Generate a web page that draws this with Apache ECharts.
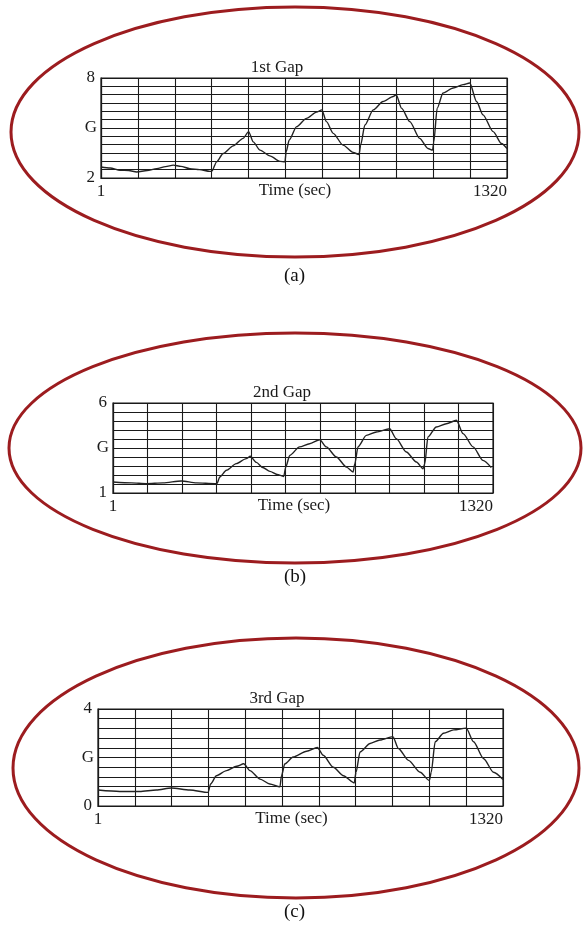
<!DOCTYPE html>
<html lang="en" style="height: 100%">
<head>
<meta charset="utf-8">
<title>Gap G vs Time</title>
</head>
<body style="height: 100%; margin: 0; background: #fff">
<div id="container" style="width: 584px; height: 929px"></div>
<script type="text/javascript" src="https://cdn.jsdelivr.net/npm/echarts@6/dist/echarts.min.js"></script>
<script type="text/javascript">
var dom = document.getElementById('container');
var myChart = echarts.init(dom);

// (time in sec, G)
var timeA = [0, 30, 62, 90, 116, 150, 181, 210, 235, 260, 289, 320, 354, 360,
  376, 397, 430, 462, 480, 495, 517, 549, 582, 598,
  602, 612, 636, 668, 701, 718, 733, 755, 787, 820, 839,
  844, 858, 885, 917, 950, 960, 977, 1004, 1036, 1063, 1078,
  1082, 1093, 1112, 1145, 1177, 1199, 1221, 1242, 1275, 1302, 1320];
var gapA = [2.66, 2.6, 2.46, 2.45, 2.36, 2.45, 2.56, 2.68, 2.77, 2.7, 2.56, 2.5, 2.4, 2.4,
  2.97, 3.47, 3.93, 4.38, 4.78, 4.17, 3.67, 3.33, 3.0, 2.97,
  3.57, 4.28, 5.08, 5.58, 5.95, 6.09, 5.38, 4.68, 3.97, 3.53, 3.41,
  3.97, 5.18, 6.09, 6.59, 6.89, 6.99, 6.19, 5.38, 4.38, 3.77, 3.67,
  4.17, 6.19, 7.1, 7.4, 7.6, 7.7, 6.59, 5.79, 4.78, 4.07, 3.77];

var timeB = [0, 64, 116, 174, 237, 290, 353, 361,
  371, 394, 428, 463, 477, 498, 520, 545, 570, 593,
  600, 614, 648, 683, 718, 741, 776, 811, 834,
  840, 851, 880, 915, 961, 984, 1019, 1054, 1077,
  1083, 1094, 1123, 1158, 1193, 1216, 1251, 1285, 1314];
var gapB = [1.61, 1.56, 1.52, 1.56, 1.67, 1.56, 1.52, 1.52,
  1.89, 2.26, 2.63, 2.91, 3.04, 2.7, 2.42, 2.2, 2.03, 1.92,
  2.44, 3.09, 3.56, 3.74, 3.96, 3.56, 3.0, 2.44, 2.17,
  2.63, 3.56, 4.2, 4.39, 4.57, 4.02, 3.28, 2.72, 2.35,
  2.63, 4.11, 4.67, 4.85, 5.04, 4.3, 3.56, 2.81, 2.41];

var timeC = [0, 71, 136, 190, 239, 299, 359,
  367, 386, 419, 452, 475, 495, 528, 560, 593,
  598, 609, 636, 680, 715, 734, 767, 800, 835,
  841, 854, 887, 919, 961, 979, 1012, 1050, 1080,
  1086, 1099, 1126, 1159, 1200, 1224, 1257, 1289, 1320];
var gapC = [0.66, 0.6, 0.6, 0.66, 0.74, 0.66, 0.56,
  0.91, 1.25, 1.46, 1.64, 1.74, 1.46, 1.11, 0.91, 0.79,
  1.25, 1.74, 2.02, 2.26, 2.41, 2.09, 1.6, 1.25, 0.95,
  1.39, 2.23, 2.58, 2.72, 2.86, 2.37, 1.88, 1.39, 1.05,
  1.39, 2.65, 3.0, 3.14, 3.21, 2.65, 1.95, 1.39, 1.09];

var titles = ['1st Gap', '2nd Gap', '3rd Gap'];
var captions = ['(a)', '(b)', '(c)'];
var yMin = [2, 1, 0];
var yMax = [8, 6, 4];
var yStep = [0.5, 0.5, 0.4];
var timeMax = 1320;

var FONT = '"Liberation Serif", "DejaVu Serif", serif';
var INK = '#1a1a1a';
var RED = '#9c1c1f';

function pairs(t, v) {
  return t.map(function (x, i) { return [x, v[i]]; });
}
var seriesData = [pairs(timeA, gapA), pairs(timeB, gapB), pairs(timeC, gapC)];

var grids = [
  {left: 101, width: 406, top: 78, height: 100},
  {left: 113, width: 380, top: 403, height: 90},
  {left: 98, width: 405, top: 709, height: 97}
];
var titlePos = [[277, 59], [282, 384], [277, 690]];
var ellipses = [[295, 132, 284, 125], [295, 448, 286, 115], [296, 768, 283, 130]];
var captionY = [277, 578, 913];

option = {
  backgroundColor: '#fff',
  animation: false,
  title: titles.map(function (t, i) {
    return {
      text: t, left: titlePos[i][0], top: titlePos[i][1], textAlign: 'center', padding: 0,
      textStyle: {fontFamily: FONT, fontSize: 17, fontWeight: 'normal', color: INK}
    };
  }),
  grid: grids.map(function (g) {
    return Object.assign({show: true, borderColor: INK, borderWidth: 1.2, backgroundColor: 'transparent'}, g);
  }),
  xAxis: grids.map(function (g, i) {
    return {
      type: 'value', gridIndex: i, min: 0, max: timeMax, interval: 120,
      name: 'Time (sec)', nameLocation: 'middle', nameGap: 13, nameMoveOverlap: false,
      nameTextStyle: {fontFamily: FONT, fontSize: 17, color: INK, verticalAlign: 'middle', padding: [0, 18, 0, 0]},
      axisLine: {show: true, lineStyle: {color: INK, width: 1.2}},
      axisTick: {show: false},
      splitLine: {show: true, lineStyle: {color: INK, width: 1.1}},
      axisLabel: {
        margin: 5, fontFamily: FONT, fontSize: 17, color: INK,
        alignMaxLabel: 'right',
        formatter: function (v) { return v === 0 ? '1' : (v === timeMax ? '1320' : ''); }
      }
    };
  }),
  yAxis: grids.map(function (g, i) {
    return {
      type: 'value', gridIndex: i, min: yMin[i], max: yMax[i], interval: yStep[i],
      name: 'G', nameLocation: 'middle', nameRotate: 0, nameGap: 10, nameMoveOverlap: false,
      nameTextStyle: {fontFamily: FONT, fontSize: 17, color: INK, align: 'center', verticalAlign: 'middle'},
      axisLine: {show: true, lineStyle: {color: INK, width: 1.2}},
      axisTick: {show: false},
      splitLine: {show: true, lineStyle: {color: INK, width: 1.1}},
      axisLabel: {
        margin: 6, fontFamily: FONT, fontSize: 17, color: INK,
        formatter: function (v) {
          if (Math.abs(v - yMin[i]) < 1e-6) return String(yMin[i]);
          if (Math.abs(v - yMax[i]) < 1e-6) return String(yMax[i]);
          return '';
        }
      }
    };
  }),
  series: seriesData.map(function (d, i) {
    return {
      type: 'line', xAxisIndex: i, yAxisIndex: i, data: d,
      showSymbol: false, smooth: 0.25, smoothMonotone: 'x',
      lineStyle: {color: '#222', width: 1.4}
    };
  }),
  graphic: ellipses.map(function (e) {
    return {
      type: 'ellipse', silent: true,
      shape: {cx: e[0], cy: e[1], rx: e[2], ry: e[3]},
      style: {fill: 'none', stroke: RED, lineWidth: 3}
    };
  }).concat(captions.map(function (c, i) {
    return {
      type: 'text', left: 284, top: captionY[i] - 10,
      style: {text: c, font: '19px ' + FONT, fill: '#111'}
    };
  }))
};

if (option && typeof option === 'object') {
  myChart.setOption(option);
}
window.addEventListener('resize', myChart.resize);
</script>
</body>
</html>
